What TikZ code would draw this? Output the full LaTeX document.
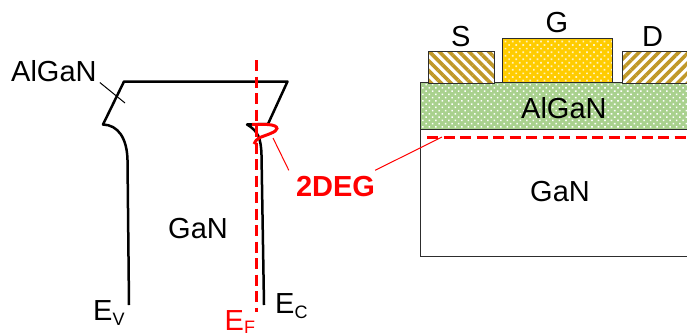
\documentclass[tikz,border=0pt]{standalone}
\usepackage{fontspec}
\setmainfont{Liberation Sans}
\usetikzlibrary{patterns.meta}
\definecolor{bandred}{RGB}{255,0,0}
\definecolor{goldmetal}{RGB}{192,152,40}
\definecolor{gatemetal}{RGB}{255,204,0}
\definecolor{barrier}{RGB}{169,209,142}
\definecolor{edgegray}{RGB}{45,45,45}
\newcommand{\sublab}[2][5pt]{\raisebox{-#1}{\fontsize{18}{18}\selectfont #2}}
\tikzset{
	txt/.style={anchor=base west, inner sep=0, font=\fontsize{29}{30}\selectfont},
	band/.style={line width=2.5pt, black},
	fermi/.style={line width=3pt, bandred, dash pattern=on 11pt off 5.5pt},
	thinred/.style={line width=1pt, bandred},
	layer/.style={draw=edgegray, line width=1pt, anchor=north west, inner sep=0},
	sourcecon/.style={layer, preaction={fill=white}, pattern={Lines[angle=-45,distance=7pt,line width=3.6pt]}, pattern color=goldmetal},
	draincon/.style={layer, preaction={fill=white}, pattern={Lines[angle=45,distance=7pt,line width=3.6pt]}, pattern color=goldmetal},
	gatecon/.style={layer, preaction={fill=gatemetal}, pattern={Dots[radius=1.2pt,distance=5pt,angle=45]}, pattern color=white!75!gatemetal},
	barrierlayer/.style={layer, preaction={fill=barrier}, pattern={Dots[radius=1.1pt,distance=4.6pt,angle=45]}, pattern color=white}
}
\begin{document}
\begin{tikzpicture}[x=1pt,y=-1pt]
	\useasboundingbox (0,0) rectangle (687,335);

	% device stack
	\node[layer, minimum width=268pt, minimum height=127pt] (bulk) at (420,129) {};
	\node[barrierlayer, minimum width=268pt, minimum height=47.5pt] (barlayer) at (420,81.5) {};
	\node[sourcecon, minimum width=66pt, minimum height=31.5pt] (src) at (427,50) {};
	\node[gatecon, minimum width=110pt, minimum height=43.5pt] (gate) at (502,38) {};
	\node[draincon, minimum width=68pt, minimum height=31.5pt] (drn) at (621,50) {};

	\node[txt] (slab) at (451,46.5) {S};
	\node[txt] (glab) at (545.5,32) {G};
	\node[txt] (dlab) at (642,46) {D};
	\node[txt] (barlab) at (521,118) {AlGaN};
	\node[txt] (bulklab) at (530,201) {GaN};

	% band diagram labels
	\node[txt] (alganlab) at (11,81) {AlGaN};
	\node[txt] (ganlab) at (168,238) {GaN};
	\node[txt] (ev) at (93,320) {E\sublab{V}};
	\node[txt] (ec) at (275,313) {E\sublab{C}};
	\node[txt, text=bandred] (ef) at (224.5,330.5) {E\sublab[3pt]{F}};
	\node[txt, font=\fontsize{29}{30}\selectfont\bfseries, text=bandred, anchor=base, text height=20.5pt, text depth=0pt, inner ysep=5pt] (twodeg) at (335.5,196) {2DEG};

	\coordinate (leadend) at (125,103);
	\coordinate (blob) at (273,138);
	\coordinate (chan) at (442,137);
	\coordinate (eftop) at (256,60);
	\coordinate (efbot) at (256,312);
	\coordinate (chanl) at (427,137);
	\coordinate (chanr) at (687,137);

	% Draw bands
	\draw[band, line join=round] (129,305) -- (127.5,160) .. controls (127,138) and (118,125) .. (103,124.5) -- (124,81.5) -- (287.5,81.5) -- (268,124) -- (247,124.5) .. controls (258,131) and (261,138) .. (261.5,155) -- (264,305);

	\draw[fermi] (eftop) -- (efbot);
	\draw[fermi] (chanl) -- (chanr);
	\draw[line width=3pt, bandred] (252,124.5) .. controls (264,124) and (277,124) .. (277,128.5) .. controls (277,132) and (266,135) .. (260,137.5) .. controls (257,139) and (255,141) .. (254,144);

	% Draw leaders
	\draw[line width=1pt, black] (alganlab.south east) ++(3,1) -- (leadend);
	\draw[thinred] ([xshift=-7pt]twodeg.north west) -- (blob);
	\draw[thinred] (twodeg.north east) -- (chan);
\end{tikzpicture}
\end{document}
